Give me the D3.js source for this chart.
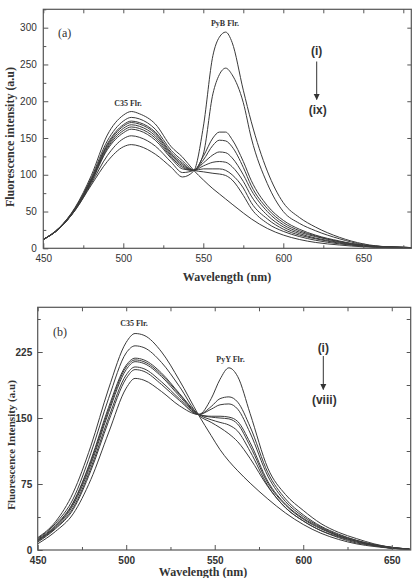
<!DOCTYPE html>
<html>
<head>
<meta charset="utf-8">
<script src="https://cdn.jsdelivr.net/npm/d3@7/dist/d3.min.js"></script>
<style>
  body { margin: 0; background: #fff; }
  .tick text { font-family: "Liberation Sans", Arial, sans-serif; fill: #333; }
  .tick line { stroke: #555; }
</style>
</head>
<body>
<div id="chart"></div>
<script>
// Panel (a) data: wavelength grid and intensity of spectra (i)..(ix)
const wavelengthsA = [450, 460, 470, 480, 490, 500, 505, 510, 520, 530, 537, 544, 550, 556, 560, 564, 568, 575, 580, 590, 600, 610, 620, 635, 650, 665, 680];
const a1 = [12, 27, 52, 86, 118, 138, 141, 139, 128, 110, 97, 105, 165, 262, 287, 294, 280, 215, 172, 105, 62, 42, 29, 15, 6, 2, 1];
const a2 = [12, 27, 52, 88, 126, 149, 153, 151, 139, 117, 103, 106, 128, 210, 236, 245, 236, 198, 150, 88, 50, 34, 24, 13, 5, 2, 1];
const a3 = [12, 27, 53, 90, 134, 157, 162, 160, 147, 122, 108, 106, 125, 150, 158, 158, 148, 118, 92, 58, 38, 26, 18, 10, 4, 2, 1];
const a4 = [12, 27, 53, 91, 136, 160, 165, 163, 150, 124, 110, 106, 120, 140, 147, 146, 138, 110, 85, 54, 35, 24, 17, 9, 4, 2, 1];
const a5 = [12, 27, 53, 92, 138, 163, 168, 166, 153, 126, 112, 106, 116, 127, 131, 130, 123, 100, 79, 50, 32, 22, 16, 9, 4, 2, 1];
const a6 = [12, 27, 54, 93, 140, 166, 171, 169, 156, 128, 114, 106, 112, 117, 118, 117, 111, 91, 71, 45, 29, 20, 14, 8, 3, 2, 1];
const a7 = [12, 28, 54, 94, 142, 168, 173, 171, 158, 130, 116, 106, 108, 108, 108, 106, 100, 82, 62, 40, 26, 18, 13, 7, 3, 1, 1];
const a8 = [12, 28, 55, 96, 146, 173, 178, 176, 162, 133, 119, 106, 104, 102, 101, 99, 93, 72, 54, 34, 23, 16, 11, 6, 3, 1, 1];
const a9 = [12, 28, 56, 99, 154, 181, 186, 183, 169, 138, 124, 106, 93, 81, 74, 67, 60, 48, 40, 27, 18, 12, 8, 4.5, 2, 1, 0];

// Panel (b) data: spectra (i)..(viii)
const wavelengthsB = [450, 460, 470, 480, 490, 500, 505, 510, 520, 530, 541, 548, 553, 558, 563, 570, 580, 590, 600, 610, 620, 630, 640, 650, 660];
const b1 = [7, 21, 41, 80, 133, 184, 195, 193, 180, 164, 154, 172, 194, 207, 197, 155, 93, 63, 45, 30, 20, 13, 7, 3, 1];
const b2 = [9, 24, 46, 90, 146, 195, 205, 203, 188, 170, 154, 163, 172, 174, 168, 140, 88, 58, 40, 27, 18, 11, 6, 3, 1];
const b3 = [10, 25, 48, 93, 150, 199, 208, 206, 191, 172, 154, 160, 165, 166, 160, 133, 84, 55, 38, 26, 17, 11, 6, 3, 1];
const b4 = [11, 26, 51, 97, 156, 205, 214, 212, 197, 175, 154, 152, 152, 151, 146, 122, 78, 52, 36, 25, 16, 10, 6, 3, 1];
const b5 = [11, 27, 53, 100, 159, 208, 216, 214, 199, 177, 154, 151, 150, 149, 143, 118, 76, 51, 35, 24, 16, 10, 5, 2, 1];
const b6 = [12, 28, 54, 102, 162, 210, 218, 216, 201, 178, 154, 148, 145, 142, 135, 112, 73, 48, 33, 22, 15, 9, 5, 2, 1];
const b7 = [13, 30, 58, 110, 172, 224, 232, 230, 213, 186, 153, 145, 139, 132, 123, 104, 72, 48, 33, 22, 14, 8, 5, 2, 1];
const b8 = [14, 32, 65, 118, 183, 236, 246, 244, 225, 193, 153, 130, 114, 101, 90, 76, 58, 42, 29, 19, 12, 7, 4, 2, 1];

// Tick values
const xTicksMajor = [450, 500, 550, 600, 650];
const xTicksMinorA = [475, 525, 575, 625, 675];
const xTicksMinorB = [475, 525, 575, 625];
const yTicksA = [0, 50, 100, 150, 200, 250, 300];
const yTicksMinorA = [25, 75, 125, 175, 225, 275, 325];
const yTicksB = [0, 75, 150, 225];
const yTicksMinorB = [37.5, 112.5, 187.5, 262.5];

const SERIF = 'Liberation Serif, Times New Roman, serif';
const SANS = 'Liberation Sans, Arial, sans-serif';

const svg = d3.select('#chart')
    .append('svg')
    .attr('width', 417)
    .attr('height', 578);

svg.append('defs')
    .append('marker')
    .attr('id', 'arrowhead')
    .attr('viewBox', '0 0 10 10')
    .attr('refX', 9)
    .attr('refY', 5)
    .attr('markerWidth', 6)
    .attr('markerHeight', 7)
    .attr('markerUnits', 'userSpaceOnUse')
    .attr('orient', 'auto')
    .append('path')
    .attr('d', 'M0,0 L10,5 L0,10 z')
    .attr('fill', '#333');

function drawPanel(p) {
    const x = d3.scaleLinear().domain(p.xDomain).range([p.left, p.right]);
    const y = d3.scaleLinear().domain(p.yDomain).range([p.bottom, p.top]);
    const g = svg.append('g');

    // spectra
    const line = d3.line()
        .x((d, i) => x(p.wavelengths[i]))
        .y(d => y(d))
        .curve(d3.curveMonotoneX);

    g.selectAll('path.curve')
        .data(p.series)
        .join('path')
        .attr('class', 'curve')
        .attr('d', line)
        .attr('fill', 'none')
        .attr('stroke', '#3a3a3a')
        .attr('stroke-width', 1);

    // axes with inward ticks
    const addAxis = (axis, tx, ty, labelled) => {
        const a = g.append('g')
            .attr('transform', `translate(${tx},${ty})`)
            .call(axis);
        a.select('.domain').remove();
        a.selectAll('text')
            .style('font-size', p.tickFont + 'px')
            .style('font-weight', p.tickWeight);
        if (!labelled) a.selectAll('text').remove();
    };

    addAxis(d3.axisBottom(x).tickValues(xTicksMajor).tickSize(-5).tickPadding(6.5), 0, p.bottom, true);
    addAxis(d3.axisBottom(x).tickValues(p.xMinor).tickSize(-3), 0, p.bottom, false);
    addAxis(d3.axisTop(x).tickValues(xTicksMajor.concat(p.xMinor)).tickSize(-4), 0, p.top, false);
    addAxis(d3.axisLeft(y).tickValues(p.yMajor).tickFormat(d3.format('d')).tickSize(-5).tickPadding(p.yPad), p.left, 0, true);
    addAxis(d3.axisLeft(y).tickValues(p.yMinor).tickSize(-3), p.left, 0, false);
    addAxis(d3.axisRight(y).tickValues(p.yRight).tickSize(-4), p.right, 0, false);

    // frame
    g.append('rect')
        .attr('x', p.left)
        .attr('y', p.top)
        .attr('width', p.right - p.left)
        .attr('height', p.bottom - p.top)
        .attr('fill', 'none')
        .attr('stroke', '#555')
        .attr('stroke-width', 1.2);

    // axis titles
    g.append('text')
        .attr('x', p.xTitle[0])
        .attr('y', p.xTitle[1])
        .attr('text-anchor', 'middle')
        .attr('font-family', SERIF)
        .attr('font-weight', 'bold')
        .attr('font-size', 12)
        .attr('fill', '#333')
        .text('Wavelength (nm)');

    g.append('text')
        .attr('transform', `translate(${p.yTitle[0]},${p.yTitle[1]}) rotate(-90)`)
        .attr('text-anchor', 'middle')
        .attr('font-family', SERIF)
        .attr('font-weight', 'bold')
        .attr('font-size', p.yTitleSize)
        .attr('fill', '#333')
        .text(p.yTitleText);

    // panel letter and peak labels
    g.append('text')
        .attr('x', p.letter[0])
        .attr('y', p.letter[1])
        .attr('font-family', SERIF)
        .attr('font-size', 12)
        .attr('fill', '#333')
        .text(p.letterText);

    p.peaks.forEach(pk => {
        g.append('text')
            .attr('x', pk.x)
            .attr('y', pk.y)
            .attr('text-anchor', 'middle')
            .attr('font-family', SERIF)
            .attr('font-weight', 'bold')
            .attr('font-size', 8)
            .attr('fill', '#333')
            .text(pk.text);
    });

    // (i) -> (n) arrow
    const ar = p.arrow;
    g.append('text')
        .attr('x', ar.x)
        .attr('y', ar.yTop)
        .attr('text-anchor', 'middle')
        .attr('font-family', SANS)
        .attr('font-weight', 'bold')
        .attr('font-size', 12)
        .attr('fill', '#333')
        .text('(i)');
    g.append('line')
        .attr('x1', ar.x)
        .attr('x2', ar.x)
        .attr('y1', ar.y1)
        .attr('y2', ar.y2)
        .attr('stroke', '#333')
        .attr('stroke-width', 1)
        .attr('marker-end', 'url(#arrowhead)');
    g.append('text')
        .attr('x', ar.x + 1)
        .attr('y', ar.yBottom)
        .attr('text-anchor', 'middle')
        .attr('font-family', SANS)
        .attr('font-weight', 'bold')
        .attr('font-size', 12)
        .attr('fill', '#333')
        .text(ar.end);
}

drawPanel({
    wavelengths: wavelengthsA,
    series: [a1, a2, a3, a4, a5, a6, a7, a8, a9],
    xDomain: [450, 680],
    yDomain: [0, 325],
    left: 43.3, right: 411.3, top: 9.3, bottom: 248.3,
    xMinor: xTicksMinorA,
    yMajor: yTicksA,
    yMinor: yTicksMinorA,
    yRight: [50, 100, 150, 200, 250, 300],
    yPad: 6.5,
    tickFont: 10,
    tickWeight: 'normal',
    xTitle: [227, 281],
    yTitle: [14, 137],
    yTitleSize: 12,
    yTitleText: 'Fluorescence intensity (a.u)',
    letter: [58, 37],
    letterText: '(a)',
    peaks: [
        { x: 128, y: 105.5, text: 'C35 Flr.' },
        { x: 225, y: 26, text: 'PyB Flr.' }
    ],
    arrow: { x: 316.7, yTop: 55, y1: 61.5, y2: 99.5, yBottom: 114, end: '(ix)' }
});

drawPanel({
    wavelengths: wavelengthsB,
    series: [b1, b2, b3, b4, b5, b6, b7, b8],
    xDomain: [450, 660.7],
    yDomain: [0, 275.8],
    left: 37.7, right: 410.7, top: 307.3, bottom: 550,
    xMinor: xTicksMinorB,
    yMajor: yTicksB,
    yMinor: yTicksMinorB,
    yRight: [37.5, 75, 112.5, 150, 187.5, 225, 262.5],
    yPad: 5.5,
    tickFont: 10,
    tickWeight: 'bold',
    xTitle: [203, 576],
    yTitle: [15, 445],
    yTitleSize: 11,
    yTitleText: 'Fluorescence Intensity (a.u)',
    letter: [53, 336],
    letterText: '(b)',
    peaks: [
        { x: 134, y: 326, text: 'C35 Flr.' },
        { x: 230.5, y: 362, text: 'PyY Flr.' }
    ],
    arrow: { x: 323.3, yTop: 352, y1: 356, y2: 389.5, yBottom: 404, end: '(viii)' }
});
</script>
</body>
</html>
